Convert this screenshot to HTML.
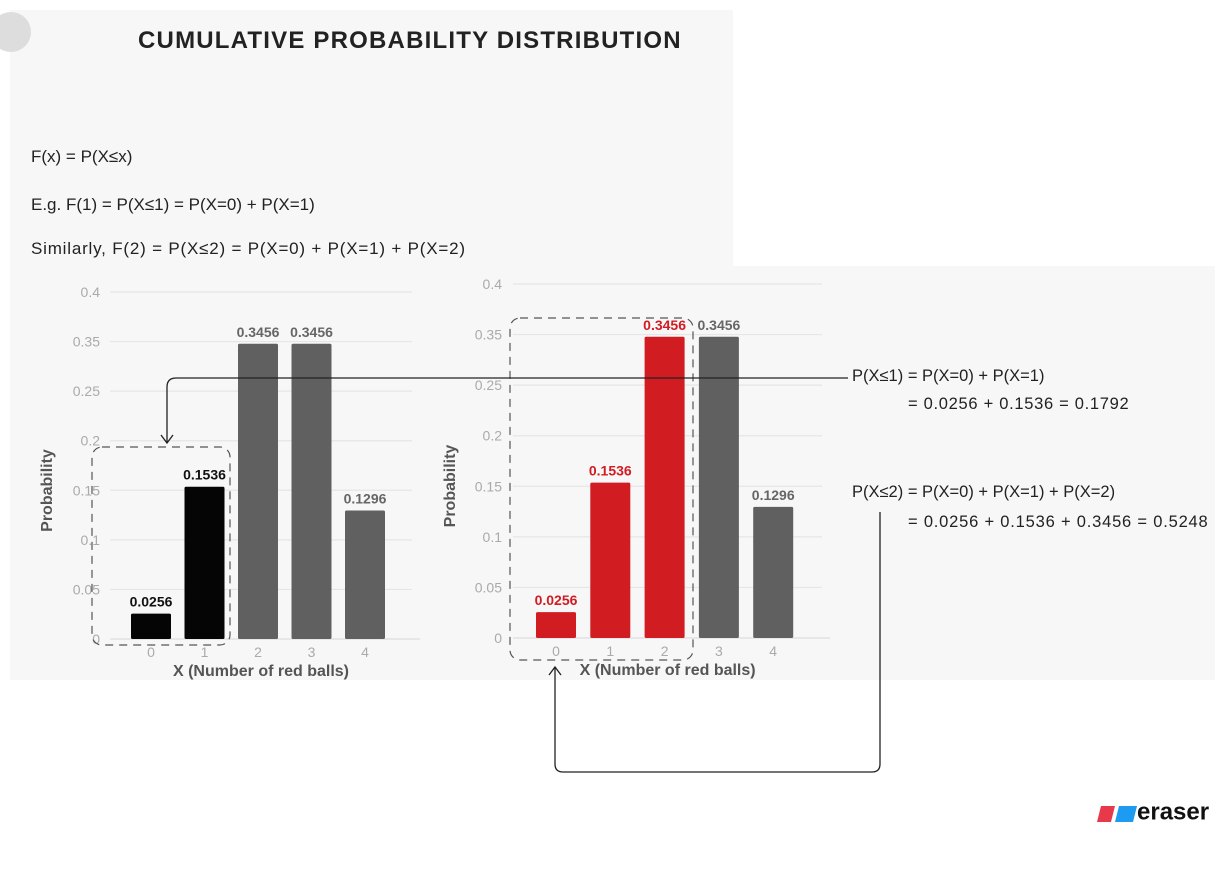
<!DOCTYPE html>
<html><head><meta charset="utf-8"><style>
body{margin:0;width:1227px;height:874px;background:#fff;position:relative;overflow:hidden;font-family:"Liberation Sans",sans-serif}
.abs{position:absolute}
</style></head><body>
<div class="abs" style="left:10px;top:10px;width:723px;height:256px;background:#f7f7f7"></div>
<div class="abs" style="left:10px;top:266px;width:1205px;height:414px;background:#f7f7f7"></div>
<div class="abs" style="left:-9px;top:12px;width:40px;height:40px;border-radius:50%;background:#ddd"></div>
<div class="abs" style="left:138px;top:27px;font-size:24px;color:#222;font-weight:bold;letter-spacing:1.2px">CUMULATIVE PROBABILITY DISTRIBUTION</div>
<div class="abs" style="left:31px;top:147px;font-size:17px;color:#222">F(x) = P(X≤x)</div>
<div class="abs" style="left:31px;top:195px;font-size:17px;color:#222">E.g. F(1) = P(X≤1) = P(X=0) + P(X=1)</div>
<div class="abs" style="left:31px;top:239px;font-size:17px;color:#222;letter-spacing:0.8px">Similarly, F(2) = P(X≤2) = P(X=0) + P(X=1) + P(X=2)</div>
<div class="abs" style="left:852px;top:367px;font-size:16.5px;color:#222">P(X≤1) = P(X=0) + P(X=1)</div>
<div class="abs" style="left:908px;top:395px;font-size:16.5px;color:#222;letter-spacing:0.7px">= 0.0256 + 0.1536 = 0.1792</div>
<div class="abs" style="left:852px;top:483px;font-size:16.5px;color:#222">P(X≤2) = P(X=0) + P(X=1) + P(X=2)</div>
<div class="abs" style="left:908px;top:513px;font-size:16.5px;color:#222;letter-spacing:0.8px">= 0.0256 + 0.1536 + 0.3456 = 0.5248</div>
<div class="abs" style="left:1097px;top:798px;font-size:24px;color:#111;font-weight:bold;white-space:nowrap">
<svg width="40" height="22" style="vertical-align:middle"><polygon points="4,4 18,4 14,20 0,20" fill="#e8394a"/><polygon points="22,4 40,4 36,20 18,20" fill="#1d9bf0"/></svg><span style="vertical-align:middle">eraser</span></div>
<svg id="svg" class="abs" style="left:0;top:0" width="1227" height="874"></svg>
<script>
const categories=["0","1","2","3","4"];
const probabilities=[0.0256,0.1536,0.3456,0.3456,0.1296];
const valueLabels=["0.0256","0.1536","0.3456","0.3456","0.1296"];
const yTicks=[0,0.05,0.1,0.15,0.2,0.25,0.35,0.4];
const yTickLabels=["0","0.05","0.1","0.15","0.2","0.25","0.35","0.4"];
const leftHighlight=[true,true,false,false,false];
const rightHighlight=[true,true,true,false,false];
const NS="http://www.w3.org/2000/svg";
const svg=document.getElementById('svg');
function el(t,a,p){const e=document.createElementNS(NS,t);for(const k in a)e.setAttribute(k,a[k]);(p||svg).appendChild(e);return e;}
function chart(name,cfg,hl,hlColor,hlLabel){
  const g=el('g',{});
  
  
  const n=yTicks.length-1;
  const step=(cfg.y0-cfg.y4)/n;
  const idx=v=>{for(let i=0;i<n;i++){if(v<=yTicks[i+1])return i+(v-yTicks[i])/(yTicks[i+1]-yTicks[i]);}return n;};
  const y=v=>cfg.y0-idx(v)*step;
  const x=i=>cfg.x0+i*cfg.step;
  yTicks.forEach((t,i)=>{
    if(i>0){const l=el('line',{x1:cfg.gx1,x2:cfg.gx2,y1:y(t),y2:y(t),stroke:'#e6e6e6','stroke-width':1.2},g);
    }
    const tx=el('text',{x:cfg.tx,y:y(t)+5,'text-anchor':'end','font-size':14,fill:'#aaa'},g);tx.textContent=yTickLabels[i];
    
  });
  const base=el('line',{x1:cfg.gx1,x2:cfg.gx2+8,y1:cfg.y0,y2:cfg.y0,stroke:'#ddd','stroke-width':1.2},g);
  
  probabilities.forEach((v,i)=>{
    const r=el('rect',{x:x(i)-20,y:y(v),width:40,height:cfg.y0-y(v),rx:1.5,fill:hl[i]?hlColor:'#606060'},g);
    
    const t=el('text',{x:x(i),y:y(v)-7,'text-anchor':'middle','font-size':14,'font-weight':'bold',fill:hl[i]?hlLabel:'#666'},g);t.textContent=valueLabels[i];
    
    const c=el('text',{x:x(i),y:cfg.y0+18,'text-anchor':'middle','font-size':14,fill:'#aaa'},g);c.textContent=categories[i];
    
  });
  const xt=el('text',{x:x(2)+3,y:cfg.y0+37,'text-anchor':'middle','font-size':16,'font-weight':'bold',fill:'#555'},g);xt.textContent='X (Number of red balls)';
  
  const yt=el('text',{x:0,y:0,'text-anchor':'middle','font-size':16,'font-weight':'bold',fill:'#555',transform:`translate(${cfg.ytx},${(cfg.y0+cfg.y4)/2+25}) rotate(-90)`},g);yt.textContent='Probability';
  
}
chart('left-chart',{y0:639,y4:292,x0:151,step:53.5,gx1:110,gx2:412,tx:100,ytx:52},leftHighlight,'#050505','#111');
chart('right-chart',{y0:638,y4:284,x0:556,step:54.3,gx1:513,gx2:822,tx:502,ytx:455},rightHighlight,'#d11c22','#d11c22');
const b1=el('rect',{x:92,y:447,width:138,height:198,rx:10,fill:'none',stroke:'#555','stroke-dasharray':'8,6','stroke-width':1.2});

const b2=el('rect',{x:510,y:318,width:183,height:342,rx:10,fill:'none',stroke:'#555','stroke-dasharray':'8,6','stroke-width':1.2});

const a1=el('path',{d:'M848,378 L176,378 Q167,378 167,387 L167,443 M161,435 L167,443 L173,435',fill:'none',stroke:'#222','stroke-width':1.3});

const a2=el('path',{d:'M880,512 L880,764 Q880,772 872,772 L563,772 Q555,772 555,764 L555,667 M549,675 L555,667 L561,675',fill:'none',stroke:'#222','stroke-width':1.3});

</script>
</body></html>
